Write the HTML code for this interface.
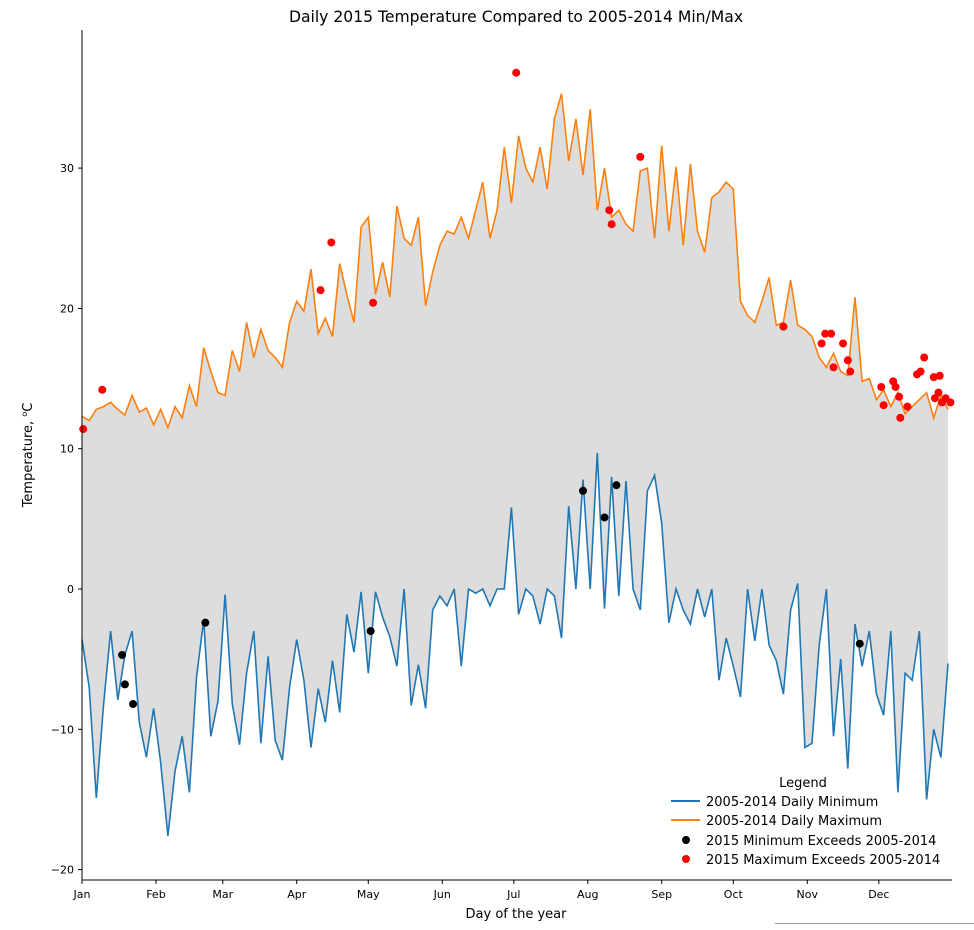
<!DOCTYPE html>
<html><head><meta charset="utf-8"><style>
body{margin:0;background:#fff;width:974px;height:925px;overflow:hidden;font-family:"Liberation Sans","DejaVu Sans",sans-serif}
svg text{font-family:"DejaVu Sans","Liberation Sans",sans-serif;fill:#000}
</style></head><body>
<svg id="chart" width="974" height="925" xmlns="http://www.w3.org/2000/svg">
<g id="fill"></g>
<g id="lines"></g>
<g id="dots"></g>
<g id="axes"></g>
<text x="516" y="22" text-anchor="middle" font-size="15.6">Daily 2015 Temperature Compared to 2005-2014 Min/Max</text>
<text x="32" y="455" text-anchor="middle" font-size="13" transform="rotate(-90 32 455)">Temperature, <tspan font-size="8" dy="-5">o</tspan><tspan dy="5">C</tspan></text>
<text x="516" y="918" text-anchor="middle" font-size="13">Day of the year</text>
<g>
<text x="803" y="787" text-anchor="middle" font-size="13">Legend</text>
<line x1="671" y1="801" x2="700" y2="801" stroke="#1f77b4" stroke-width="2"/>
<text x="706" y="806" font-size="13">2005-2014 Daily Minimum</text>
<line x1="671" y1="820" x2="700" y2="820" stroke="#ff7f0e" stroke-width="2"/>
<text x="706" y="825" font-size="13">2005-2014 Daily Maximum</text>
<circle cx="686" cy="840" r="4" fill="#000"/>
<text x="706" y="845" font-size="13">2015 Minimum Exceeds 2005-2014</text>
<circle cx="686" cy="859" r="4" fill="red"/>
<text x="706" y="864" font-size="13">2015 Maximum Exceeds 2005-2014</text>
</g>
<line x1="775" y1="923.5" x2="974" y2="923.5" stroke="#999" stroke-width="1"/>
</svg>
<script>
const maxVals=[12.3,12.0,12.8,13.0,13.3,12.8,12.4,13.8,12.6,12.9,11.7,12.8,11.5,13.0,12.2,14.5,13.0,17.2,15.5,14.0,13.8,17.0,15.5,19.0,16.5,18.5,17.0,16.5,15.8,19.0,20.5,19.8,22.8,18.2,19.3,18.0,23.2,21.0,19.0,25.8,26.5,21.0,23.3,20.8,27.3,25.0,24.5,26.5,20.2,22.6,24.5,25.5,25.3,26.5,25.0,27.0,29.0,25.0,27.0,31.5,27.5,32.3,30.0,29.0,31.5,28.5,33.5,35.3,30.5,33.5,29.5,34.2,27.0,30.0,26.5,27.0,26.0,25.5,29.8,30.0,25.0,31.6,25.5,30.1,24.5,30.3,25.5,24.0,27.9,28.3,29.0,28.5,20.5,19.5,19.0,20.5,22.2,18.8,19.0,22.0,18.8,18.5,18.0,16.5,15.8,16.8,15.5,15.2,20.8,14.8,15.0,13.5,14.2,13.0,14.0,12.5,13.0,13.5,14.0,12.2,13.8,12.8];
const minVals=[-3.6,-7.0,-14.9,-8.3,-3.0,-7.9,-4.7,-3.0,-9.5,-12.0,-8.5,-12.4,-17.6,-13.0,-10.5,-14.5,-6.3,-2.2,-10.5,-8.0,-0.4,-8.2,-11.1,-6.0,-3.0,-11.0,-4.8,-10.8,-12.2,-7.0,-3.6,-6.5,-11.3,-7.1,-9.5,-5.1,-8.8,-1.8,-4.5,-0.2,-6.0,-0.2,-2.0,-3.4,-5.5,0.0,-8.3,-5.4,-8.5,-1.5,-0.5,-1.2,0,-5.5,0,-0.3,0,-1.2,0,0,5.8,-1.8,0,-0.5,-2.5,0,-0.5,-3.5,5.9,0,7.8,0,9.7,-1.4,8.0,-0.5,7.7,0,-1.5,7.0,8.1,4.7,-2.4,0,-1.5,-2.5,0,-2.0,0,-6.5,-3.5,-5.5,-7.7,0,-3.7,0,-4.0,-5.1,-7.5,-1.5,0.4,-11.3,-11.0,-4.0,0,-10.5,-5.0,-12.8,-2.5,-5.5,-3.0,-7.5,-9.0,-3.0,-14.5,-6.0,-6.5,-3.0,-15.0,-10.0,-12.0,-5.3];
const dayStep=3;
const redDays=[0.5,8.5,100,104.5,122,182,221,222,234,294,310,311.5,314,315,319,321,322,335,336,340,341,342.5,343,346,350,351.5,353,357,357.5,359.5,359,360.5,362,364];
const redVals=[11.4,14.2,21.3,24.7,20.4,36.8,27.0,26.0,30.8,18.7,17.5,18.2,18.2,15.8,17.5,16.3,15.5,14.4,13.1,14.8,14.4,13.7,12.2,13.0,15.3,15.5,16.5,15.1,13.6,15.2,14.0,13.3,13.6,13.3];
const blackDays=[16.8,18,21.4,51.7,121,210,219,224,326];
const blackVals=[-4.7,-6.8,-8.2,-2.4,-3.0,7.0,5.1,7.4,-3.9];
const yTicks=[-20,-10,0,10,20,30];
const monthLabels=["Jan","Feb","Mar","Apr","May","Jun","Jul","Aug","Sep","Oct","Nov","Dec"];
const monthStarts=[0,31,59,90,120,151,181,212,243,273,304,334];

const NS="http://www.w3.org/2000/svg";
const X0=82,X1=954,XE=952,YT=30,YB=880;
const xs=d=>X0+d*(X1-X0)/365.5;
const ys=v=>589-v*14.03;
function mk(tag,attrs,parent){const e=document.createElementNS(NS,tag);for(const k in attrs)e.setAttribute(k,attrs[k]);parent.appendChild(e);return e;}

const fillG=document.getElementById('fill'),lineG=document.getElementById('lines'),dotG=document.getElementById('dots'),axG=document.getElementById('axes');
const topPts=maxVals.map((v,i)=>xs(i*dayStep).toFixed(1)+","+ys(v).toFixed(1));
const botPts=minVals.map((v,i)=>xs(i*dayStep).toFixed(1)+","+ys(v).toFixed(1));
const poly=mk('polygon',{points:topPts.concat(botPts.slice().reverse()).join(' '),fill:'#dddddd'},fillG);


const minL=mk('polyline',{points:botPts.join(' '),fill:'none',stroke:'#1f77b4','stroke-width':1.6},lineG);


const maxL=mk('polyline',{points:topPts.join(' '),fill:'none',stroke:'#ff7f0e','stroke-width':1.6},lineG);


blackDays.forEach((d,i)=>{const c=mk('circle',{cx:xs(d),cy:ys(blackVals[i]),r:4,fill:'#000'},dotG);

});
redDays.forEach((d,i)=>{const c=mk('circle',{cx:xs(d),cy:ys(redVals[i]),r:4,fill:'red'},dotG);

});
const ly=mk('line',{x1:X0,y1:YT,x2:X0,y2:YB,stroke:'#000','stroke-width':1},axG);


const lx=mk('line',{x1:X0,y1:YB,x2:XE,y2:YB,stroke:'#000','stroke-width':1},axG);


yTicks.forEach(v=>{const y=ys(v);mk('line',{x1:X0-4,y1:y,x2:X0,y2:y,stroke:'#000'},axG);
const t=mk('text',{x:X0-8,y:y+4,'text-anchor':'end','font-size':11},axG);t.textContent=(v<0?'\u2212':'')+Math.abs(v);

});
monthStarts.forEach((d,i)=>{const x=xs(d);mk('line',{x1:x,y1:YB,x2:x,y2:YB+4,stroke:'#000'},axG);
const t=mk('text',{x:x,y:YB+18,'text-anchor':'middle','font-size':11},axG);t.textContent=monthLabels[i];

});
</script>
</body></html>
